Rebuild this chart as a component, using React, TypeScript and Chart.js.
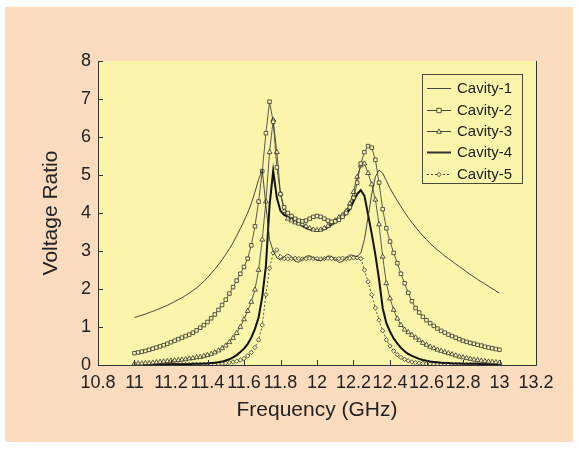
import React, { useEffect, useRef } from 'react';
import { Chart, registerables } from 'chart.js';

Chart.register(...registerables);

// Frequency grid (GHz)
const freq = [
  11.00, 11.02, 11.04, 11.06, 11.08, 11.10, 11.12, 11.14, 11.16, 11.18,
  11.20, 11.22, 11.24, 11.26, 11.28, 11.30, 11.32, 11.34, 11.36, 11.38,
  11.40, 11.42, 11.44, 11.46, 11.48, 11.50, 11.52, 11.54, 11.56, 11.58,
  11.60, 11.62, 11.64, 11.66, 11.68, 11.70, 11.72, 11.74, 11.76, 11.78,
  11.80, 11.82, 11.84, 11.86, 11.88, 11.90, 11.92, 11.94, 11.96, 11.98,
  12.00, 12.02, 12.04, 12.06, 12.08, 12.10, 12.12, 12.14, 12.16, 12.18,
  12.20, 12.22, 12.24, 12.26, 12.28, 12.30, 12.32, 12.34, 12.36, 12.38,
  12.40, 12.42, 12.44, 12.46, 12.48, 12.50, 12.52, 12.54, 12.56, 12.58,
  12.60, 12.62, 12.64, 12.66, 12.68, 12.70, 12.72, 12.74, 12.76, 12.78,
  12.80, 12.82, 12.84, 12.86, 12.88, 12.90, 12.92, 12.94, 12.96, 12.98,
  13.00,
];

const cavity1 = [
  1.25, 1.28, 1.31, 1.34, 1.38, 1.41, 1.45, 1.49, 1.53, 1.57,
  1.62, 1.67, 1.72, 1.77, 1.83, 1.89, 1.96, 2.03, 2.11, 2.20,
  2.30, 2.41, 2.52, 2.64, 2.77, 2.91, 3.06, 3.22, 3.40, 3.59,
  3.79, 4.00, 4.25, 4.55, 4.88, 5.13, 4.20, 3.30, 3.00, 2.82,
  2.76, 2.85, 2.92, 2.85, 2.73, 2.70, 2.78, 2.86, 2.88, 2.82,
  2.76, 2.74, 2.80, 2.87, 2.86, 2.78, 2.70, 2.72, 2.82, 2.90,
  2.88, 2.85, 2.95, 3.30, 3.90, 4.50, 4.95, 5.13, 5.05, 4.85,
  4.65, 4.48, 4.32, 4.17, 4.02, 3.88, 3.75, 3.63, 3.51, 3.40,
  3.30, 3.20, 3.11, 3.03, 2.95, 2.87, 2.80, 2.73, 2.66, 2.59,
  2.52, 2.45, 2.38, 2.32, 2.25, 2.19, 2.13, 2.07, 2.01, 1.95,
  1.89,
];

const cavity2 = [
  0.31, 0.33, 0.35, 0.37, 0.40, 0.43, 0.46, 0.49, 0.52, 0.56,
  0.60, 0.64, 0.68, 0.72, 0.76, 0.80, 0.85, 0.91, 0.98, 1.05,
  1.13, 1.23, 1.33, 1.45, 1.58, 1.72, 1.88, 2.05, 2.22, 2.40,
  2.58, 2.80, 3.15, 3.65, 4.30, 5.10, 6.10, 6.93, 6.40, 5.20,
  4.50, 4.15, 4.00, 3.92, 3.85, 3.80, 3.78, 3.80, 3.85, 3.90,
  3.92, 3.90, 3.85, 3.80, 3.77, 3.78, 3.82, 3.90, 4.00, 4.15,
  4.40, 4.80, 5.30, 5.60, 5.76, 5.72, 5.40, 4.80, 4.10, 3.60,
  3.25, 2.95, 2.68, 2.40, 2.15, 1.90, 1.68, 1.50, 1.38, 1.27,
  1.18, 1.10, 1.03, 0.96, 0.90, 0.85, 0.80, 0.76, 0.72, 0.68,
  0.64, 0.61, 0.58, 0.56, 0.53, 0.51, 0.48, 0.46, 0.44, 0.42,
  0.40,
];

const cavity3 = [
  0.03, 0.04, 0.04, 0.05, 0.05, 0.06, 0.07, 0.08, 0.09, 0.10,
  0.11, 0.12, 0.13, 0.14, 0.15, 0.17, 0.18, 0.20, 0.21, 0.23,
  0.26, 0.29, 0.33, 0.38, 0.44, 0.51, 0.60, 0.71, 0.84, 1.00,
  1.20, 1.42, 1.66, 1.98, 2.50, 3.30, 4.30, 5.60, 6.45, 5.60,
  4.50, 4.05, 3.85, 3.80, 3.75, 3.72, 3.70, 3.65, 3.60, 3.56,
  3.55, 3.56, 3.60, 3.66, 3.73, 3.80, 3.88, 3.95, 4.05, 4.25,
  4.55, 4.95, 5.25, 5.30, 5.05, 4.75, 4.35, 3.70, 2.85, 2.15,
  1.75, 1.45, 1.22, 1.05, 0.93, 0.86, 0.79, 0.72, 0.65, 0.58,
  0.53, 0.48, 0.44, 0.40, 0.37, 0.34, 0.31, 0.28, 0.25, 0.22,
  0.20, 0.18, 0.16, 0.14, 0.13, 0.11, 0.10, 0.09, 0.08, 0.07,
  0.06,
];

const cavity4 = [
  0.01, 0.01, 0.01, 0.01, 0.01, 0.01, 0.01, 0.01, 0.01, 0.02,
  0.02, 0.02, 0.02, 0.02, 0.02, 0.02, 0.03, 0.03, 0.03, 0.04,
  0.04, 0.05, 0.06, 0.07, 0.09, 0.12, 0.15, 0.20, 0.26, 0.34,
  0.43, 0.55, 0.72, 0.95, 1.25, 1.80, 2.60, 4.20, 5.11, 4.40,
  4.05, 3.95, 3.90, 3.85, 3.78, 3.72, 3.66, 3.61, 3.57, 3.55,
  3.54, 3.55, 3.58, 3.63, 3.69, 3.76, 3.83, 3.90, 3.98, 4.10,
  4.30, 4.50, 4.60, 4.45, 3.95, 3.45, 2.90, 2.25, 1.50, 1.10,
  0.88, 0.70, 0.57, 0.45, 0.36, 0.29, 0.24, 0.20, 0.16, 0.13,
  0.11, 0.09, 0.08, 0.07, 0.06, 0.05, 0.05, 0.04, 0.04, 0.04,
  0.03, 0.03, 0.03, 0.03, 0.03, 0.02, 0.02, 0.02, 0.02, 0.02,
  0.02,
];

const cavity5 = [
  0.01, 0.01, 0.01, 0.01, 0.01, 0.01, 0.01, 0.01, 0.01, 0.01,
  0.01, 0.01, 0.01, 0.01, 0.01, 0.01, 0.01, 0.01, 0.01, 0.01,
  0.01, 0.02, 0.02, 0.03, 0.04, 0.05, 0.06, 0.08, 0.10, 0.13,
  0.17, 0.24, 0.33, 0.46, 0.66, 1.05, 1.85, 2.55, 2.95, 3.03,
  2.85, 2.80, 2.79, 2.80, 2.81, 2.80, 2.79, 2.80, 2.81, 2.80,
  2.80, 2.79, 2.80, 2.81, 2.80, 2.79, 2.80, 2.81, 2.80, 2.81,
  2.82, 2.82, 2.80, 2.50, 2.19, 1.85, 1.50, 1.18, 0.90, 0.66,
  0.50, 0.37, 0.27, 0.20, 0.15, 0.11, 0.08, 0.06, 0.05, 0.04,
  0.03, 0.03, 0.02, 0.02, 0.02, 0.02, 0.02, 0.01, 0.01, 0.01,
  0.01, 0.01, 0.01, 0.01, 0.01, 0.01, 0.01, 0.01, 0.01, 0.01,
  0.01,
];

const seriesNames = ['Cavity-1', 'Cavity-2', 'Cavity-3', 'Cavity-4', 'Cavity-5'];

const xTicks = [10.8, 11.0, 11.2, 11.4, 11.6, 11.8, 12.0, 12.2, 12.4, 12.6, 12.8, 13.0, 13.2];
const xTickLabels = ['10.8', '11', '11.2', '11.4', '11.6', '11.8', '12', '12.2', '12.4', '12.6', '12.8', '13', '13.2'];
const yTicks = [0, 1, 2, 3, 4, 5, 6, 7, 8];

const xTitle = 'Frequency (GHz)';
const yTitle = 'Voltage Ratio';

const PEACH = '#fcdcbe';
const YELLOW = '#f9f5ab';
const INK = '#333333';
const FONT = "'Liberation Sans', Arial, Helvetica, sans-serif";

function drawMarker(c: CanvasRenderingContext2D, style: string, x: number, y: number, r: number) {
  c.beginPath();
  if (style === 'rect') {
    c.rect(x - r, y - r, 2 * r, 2 * r);
  } else if (style === 'triangle') {
    c.moveTo(x, y - r * 1.2);
    c.lineTo(x + r * 1.1, y + r * 0.8);
    c.lineTo(x - r * 1.1, y + r * 0.8);
    c.closePath();
  } else if (style === 'rectRot') {
    c.moveTo(x, y - r);
    c.lineTo(x + r, y);
    c.lineTo(x, y + r);
    c.lineTo(x - r, y);
    c.closePath();
  }
  c.fillStyle = YELLOW;
  c.fill();
  c.stroke();
}

export default function App() {
  const ref = useRef<HTMLCanvasElement>(null);

  useEffect(() => {
    const canvas = ref.current;
    if (!canvas) return;
    const mk = (arr: number[]) => freq.map((f, i) => ({ x: f, y: arr[i] }));

    const legendStyles = [
      { width: 0.9, dash: [] as number[], marker: '' },
      { width: 0.9, dash: [] as number[], marker: 'rect' },
      { width: 0.9, dash: [] as number[], marker: 'triangle' },
      { width: 2, dash: [] as number[], marker: '' },
      { width: 0.9, dash: [2, 2], marker: 'rectRot' },
    ];

    const deco = {
      id: 'deco',
      beforeDraw(chart: any) {
        const c = chart.ctx as CanvasRenderingContext2D;
        const a = chart.chartArea;
        c.save();
        c.fillStyle = '#ffffff';
        c.fillRect(0, 0, chart.width, chart.height);
        c.fillStyle = PEACH;
        c.fillRect(5, 7, 568, 435);
        c.fillStyle = YELLOW;
        c.fillRect(a.left, a.top, a.right - a.left, a.bottom - a.top);
        c.restore();
      },
      afterDraw(chart: any) {
        const c = chart.ctx as CanvasRenderingContext2D;
        const a = chart.chartArea;
        const xs = chart.scales.x;
        const ys = chart.scales.y;
        c.save();
        c.strokeStyle = INK;
        c.lineWidth = 1;
        c.setLineDash([]);
        c.beginPath();
        c.moveTo(a.left + 0.5, a.top);
        c.lineTo(a.left + 0.5, a.bottom + 0.5);
        c.lineTo(a.right + 0.5, a.bottom + 0.5);
        c.lineTo(a.right + 0.5, a.top);
        c.stroke();
        c.beginPath();
        xTicks.forEach((v) => {
          const px = Math.round(xs.getPixelForValue(v)) + 0.5;
          c.moveTo(px, a.bottom);
          c.lineTo(px, a.bottom - 5);
        });
        yTicks.forEach((v) => {
          const py = Math.round(ys.getPixelForValue(v)) + 0.5;
          c.moveTo(a.left, py);
          c.lineTo(a.left + 5, py);
        });
        c.stroke();

        // axis titles
        c.fillStyle = '#222222';
        c.font = `21px ${FONT}`;
        c.textAlign = 'center';
        c.textBaseline = 'middle';
        c.fillText(xTitle, (a.left + a.right) / 2, 410);
        c.save();
        c.translate(51, (a.top + a.bottom) / 2);
        c.rotate(-Math.PI / 2);
        c.fillText(yTitle, 0, 0);
        c.restore();

        // legend
        const bx = 422.5, by = 74.5, bw = 100, bh = 109;
        c.strokeStyle = '#4a4a3a';
        c.lineWidth = 1;
        c.strokeRect(bx, by, bw, bh);
        const rows = [88, 110, 131, 152, 174];
        c.font = `15px ${FONT}`;
        c.textAlign = 'left';
        seriesNames.forEach((name, i) => {
          const st = legendStyles[i];
          const y = rows[i];
          c.strokeStyle = INK;
          c.lineWidth = st.width;
          c.setLineDash(st.dash);
          c.beginPath();
          c.moveTo(427, y + 0.5);
          c.lineTo(451, y + 0.5);
          c.stroke();
          c.setLineDash([]);
          if (st.marker) {
            c.lineWidth = 0.8;
            drawMarker(c, st.marker, 439, y + 0.5, 2.2);
          }
          c.fillStyle = '#222222';
          c.fillText(name, 457, y + 1);
        });
        c.restore();
      },
    };

    const chart = new Chart(canvas, {
      type: 'line',
      data: {
        datasets: [
          {
            label: seriesNames[0], data: mk(cavity1), borderColor: INK, borderWidth: 0.9,
            pointRadius: 0, tension: 0,
          },
          {
            label: seriesNames[1], data: mk(cavity2), borderColor: INK, borderWidth: 0.8,
            pointStyle: 'rect', pointRadius: 2.5, pointBorderWidth: 0.8,
            pointBorderColor: INK, pointBackgroundColor: YELLOW, tension: 0,
          },
          {
            label: seriesNames[2], data: mk(cavity3), borderColor: INK, borderWidth: 0.8,
            pointStyle: 'triangle', pointRadius: 2.8, pointBorderWidth: 0.8,
            pointBorderColor: INK, pointBackgroundColor: YELLOW, tension: 0,
          },
          {
            label: seriesNames[3], data: mk(cavity4), borderColor: '#111111', borderWidth: 2,
            pointRadius: 0, tension: 0,
          },
          {
            label: seriesNames[4], data: mk(cavity5), borderColor: INK, borderWidth: 0.8,
            borderDash: [2, 2], pointStyle: 'rectRot', pointRadius: 2.2, pointBorderWidth: 0.8,
            pointBorderColor: INK, pointBackgroundColor: YELLOW, tension: 0,
          },
        ],
      } as any,
      options: {
        responsive: false,
        animation: false,
        devicePixelRatio: 1,
        events: [],
        layout: { padding: { left: 0, top: 61, right: 44, bottom: 0 } },
        plugins: { legend: { display: false }, tooltip: { enabled: false } },
        scales: {
          x: {
            type: 'linear',
            min: 10.8,
            max: 13.2,
            grid: { display: false, drawTicks: false },
            border: { display: false },
            afterBuildTicks: (s: any) => { s.ticks = xTicks.map((v) => ({ value: v })); },
            afterFit: (s: any) => { s.height = 84; },
            ticks: {
              autoSkip: false, maxRotation: 0, minRotation: 0, padding: 7,
              color: '#222222', font: { family: FONT, size: 18 },
              callback: (_v: any, i: number) => xTickLabels[i],
            },
          },
          y: {
            type: 'linear',
            min: 0,
            max: 8,
            grid: { display: false, drawTicks: false },
            border: { display: false },
            afterBuildTicks: (s: any) => { s.ticks = yTicks.map((v) => ({ value: v })); },
            afterFit: (s: any) => { s.width = 98; },
            ticks: {
              padding: 7, color: '#222222', font: { family: FONT, size: 18 },
              callback: (v: any) => String(v),
            },
          },
        },
      } as any,
      plugins: [deco],
    });

    return () => chart.destroy();
  }, []);

  return (
    <div style={{ position: 'absolute', left: 0, top: 0, width: 580, height: 449 }}>
      <canvas ref={ref} width={580} height={449} style={{ display: 'block' }} />
    </div>
  );
}
